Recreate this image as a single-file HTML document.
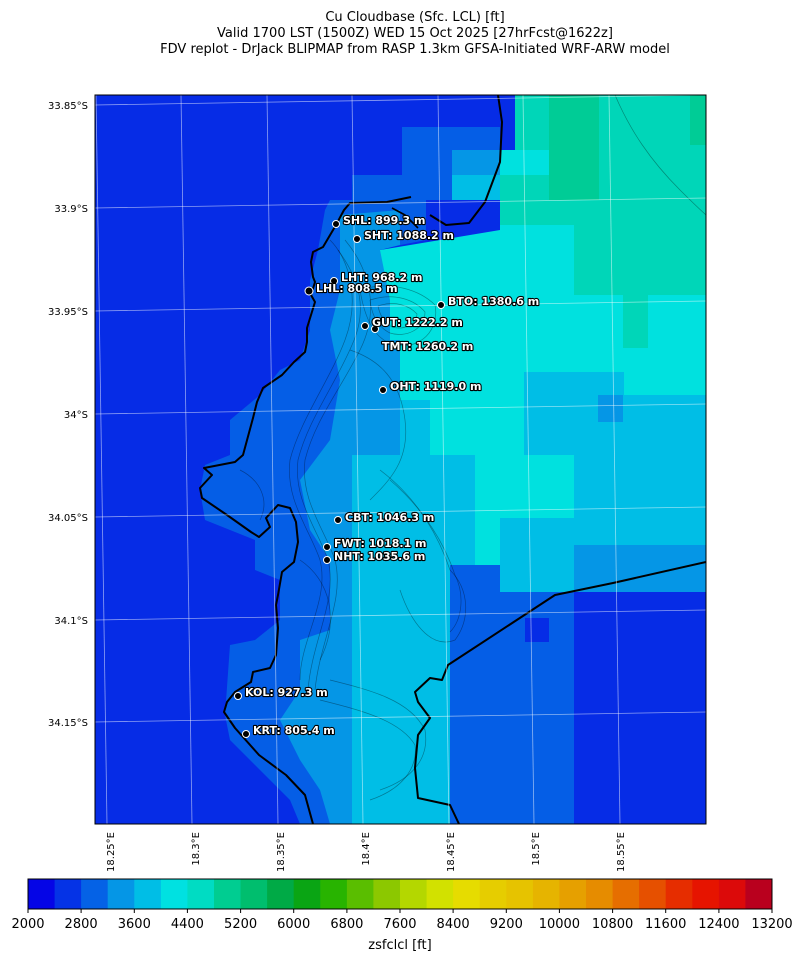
<!DOCTYPE html>
<html><head><meta charset="utf-8"><style>
html,body{margin:0;padding:0;background:#fff;}
svg{display:block;font-family:"DejaVu Sans","Liberation Sans",sans-serif;}
.lab{font-weight:bold;font-size:11px;fill:#fff;stroke:#000;stroke-width:2.2px;paint-order:stroke;stroke-linejoin:round;}
</style></head><body>
<svg width="803" height="962" viewBox="0 0 803 962" xmlns="http://www.w3.org/2000/svg">
<text x="415" y="21" font-size="13" text-anchor="middle">Cu Cloudbase (Sfc. LCL) [ft]</text>
<text x="415" y="37" font-size="13" text-anchor="middle">Valid 1700 LST (1500Z) WED 15 Oct 2025 [27hrFcst@1622z]</text>
<text x="415" y="53" font-size="13" text-anchor="middle">FDV replot - DrJack BLIPMAP from RASP 1.3km GFSA-Initiated WRF-ARW model</text>
<defs><clipPath id="c"><rect x="95" y="95" width="611" height="729"/></clipPath></defs>
<g clip-path="url(#c)">
<rect x="95" y="95" width="611" height="729" fill="#062ce6"/>
<polygon fill="#00bee6" points="400,360 706,360 706,545 574,545 574,592 500,592 500,640 450,680 426,720 426,824 352,824 352,455 400,455"/>
<polygon fill="#00e1df" points="380,250 500,230 500,175 549,175 549,200 706,200 706,395 624,395 624,372 524,372 524,455 574,455 574,518 500,518 500,565 475,565 475,455 430,455 430,400 390,400 390,330 380,300"/>
<polygon fill="#00d6b8" points="522,95 706,95 706,295 648,295 648,348 623,348 623,295 574,295 574,225 500,225 500,150 515,150 515,95"/>
<rect x="549" y="95" width="50" height="105" fill="#00cc96"/>
<rect x="690" y="95" width="16" height="50" fill="#00cc96"/>
<rect x="500" y="150" width="49" height="25" fill="#00e1df"/>
<rect x="402" y="127" width="50" height="73" fill="#055ee6"/>
<rect x="452" y="127" width="48" height="23" fill="#055ee6"/>
<rect x="452" y="150" width="48" height="25" fill="#0596e6"/>
<rect x="452" y="175" width="48" height="25" fill="#00bee6"/>
<rect x="352" y="175" width="50" height="25" fill="#055ee6"/>
<rect x="598" y="395" width="25" height="27" fill="#0596e6"/>
<rect x="574" y="545" width="132" height="47" fill="#0596e6"/>
<rect x="500" y="592" width="74" height="232" fill="#055ee6"/>
<rect x="450" y="565" width="50" height="259" fill="#055ee6"/>
<rect x="525" y="618" width="24" height="24" fill="#062ce6"/>
<polygon fill="#055ee6" points="330,200 426,200 426,240 375,250 352,300 352,455 352,824 300,824 290,800 250,760 230,740 225,715 230,645 255,640 280,620 280,580 255,570 255,540 205,520 200,490 205,465 230,455 230,420 260,395 280,370 300,360 310,330 310,280 318,250 325,210"/>
<polygon fill="#0596e6" points="340,215 400,210 400,245 380,250 390,300 390,400 352,455 352,824 330,824 320,790 300,760 280,720 300,690 300,640 330,630 330,560 310,530 300,480 330,440 340,380 330,330 340,290"/>
<rect x="352" y="340" width="48" height="115" fill="#0596e6"/>
<rect x="375" y="565" width="75" height="125" fill="#00bee6"/>
<rect x="352" y="455" width="48" height="60" fill="#00bee6"/>
<rect x="426" y="690" width="24" height="134" fill="#00bee6"/>
<g fill="none" stroke="#000" stroke-opacity="0.35" stroke-width="0.7">
<path d="M330,240 C350,260 360,300 345,340 C330,380 300,420 290,460 C285,500 310,530 320,560 C330,600 300,640 300,680"/>
<path d="M345,240 C370,270 380,310 360,350 C340,390 315,420 305,460 C300,500 325,530 335,560 C345,600 320,640 315,690"/>
<path d="M338,250 C360,280 368,310 352,345 C335,385 308,420 298,460 C293,500 318,530 328,560 C338,600 312,640 308,690"/>
<path d="M360,290 C390,280 420,290 435,305 C440,330 420,350 395,345 C375,340 365,320 360,290"/>
<path d="M370,300 C395,292 415,300 425,312 C425,330 405,338 390,333 C380,328 372,318 370,300"/>
<path d="M378,306 C395,300 410,306 417,314 C416,326 402,330 392,327 C385,323 380,316 378,306"/>
<path d="M350,350 C380,360 400,380 405,420 C410,460 390,480 370,500"/>
<path d="M380,470 C420,500 440,540 450,570 C470,590 470,620 455,640 C430,650 410,620 400,590"/>
<path d="M390,480 C425,510 445,545 455,575 C465,595 462,620 450,632"/>
<path d="M300,560 C330,580 340,620 320,660"/>
<path d="M330,680 C370,690 410,700 425,730 C430,760 410,780 380,790"/>
<path d="M320,700 C360,710 400,720 415,745 C418,770 400,790 370,800"/>
<path d="M240,470 C260,480 270,500 260,520"/>
<path d="M615,95 C630,130 650,160 680,190 C695,205 706,215 706,215"/>
</g>
<g fill="none" stroke="#000" stroke-width="2" stroke-linejoin="round">
<polyline points="411,197 387,202 350,203 344,210 336,225 323,247 313,252 311,262 313,277 315,282 311,295 315,302 311,315 307,328 307,342 305,352 294,362 282,375 263,388 257,402 253,418 243,455 235,462 204,468 212,475 200,488 202,498 227,515 251,532 259,537 270,527 266,518 278,505 290,508 296,522 298,542 294,562 282,572 278,595 276,605 278,628 276,655 270,668 253,672 251,682 235,692 227,702 224,712 235,728 259,755 286,775 305,795 313,824"/>
<polyline points="459,824 450,805 418,798 415,768 418,735 430,718 418,702 415,692 430,678 442,680 448,665 555,595 613,583 706,562"/>
<polyline points="498,95 502,122 500,162 485,202 469,223 446,225 430,215"/>
<polyline points="392,208 405,215 418,228" stroke-width="1.6"/>
</g>
<g stroke="#fff" stroke-opacity="0.55" stroke-width="0.8">
<line x1="95" y1="105" x2="706" y2="95"/><line x1="95" y1="208" x2="706" y2="198"/>
<line x1="95" y1="311" x2="706" y2="301"/><line x1="95" y1="414" x2="706" y2="404"/>
<line x1="95" y1="517" x2="706" y2="507"/><line x1="95" y1="620" x2="706" y2="610"/>
<line x1="95" y1="722" x2="706" y2="712"/>
<line x1="107" y1="824" x2="96" y2="95"/><line x1="192" y1="824" x2="181" y2="95"/>
<line x1="278" y1="824" x2="267" y2="95"/><line x1="363" y1="824" x2="352" y2="95"/>
<line x1="449" y1="824" x2="438" y2="95"/><line x1="534" y1="824" x2="523" y2="95"/>
<line x1="620" y1="824" x2="609" y2="95"/>
</g>
<g fill="#000" stroke="#fff" stroke-width="1">
<circle cx="336" cy="224" r="3.5"/><circle cx="357" cy="239" r="3.5"/><circle cx="334" cy="281" r="3.5"/>
<circle cx="309" cy="291" r="4"/><circle cx="441" cy="305" r="3.5"/><circle cx="365" cy="326" r="3.5"/>
<circle cx="375" cy="329" r="3.5"/><circle cx="383" cy="390" r="3.5"/><circle cx="338" cy="520" r="3.5"/>
<circle cx="327" cy="547" r="3.5"/><circle cx="327" cy="560" r="3.5"/><circle cx="238" cy="696" r="3.5"/>
<circle cx="246" cy="734" r="3.5"/>
</g>
<text class="lab" x="343" y="224">SHL: 899.3 m</text>
<text class="lab" x="364" y="239">SHT: 1088.2 m</text>
<text class="lab" x="341" y="281">LHT: 968.2 m</text>
<text class="lab" x="316" y="292">LHL: 808.5 m</text>
<text class="lab" x="448" y="305">BTO: 1380.6 m</text>
<text class="lab" x="372" y="326">GUT: 1222.2 m</text>
<text class="lab" x="382" y="350">TMT: 1260.2 m</text>
<text class="lab" x="390" y="390">OHT: 1119.0 m</text>
<text class="lab" x="345" y="521">CBT: 1046.3 m</text>
<text class="lab" x="334" y="547">FWT: 1018.1 m</text>
<text class="lab" x="334" y="560">NHT: 1035.6 m</text>
<text class="lab" x="245" y="696">KOL: 927.3 m</text>
<text class="lab" x="253" y="734">KRT: 805.4 m</text>
</g>
<rect x="95" y="95" width="611" height="729" fill="none" stroke="#000" stroke-width="1"/>
<g font-size="10" text-anchor="end">
<text x="88" y="109">33.85°S</text><text x="88" y="212">33.9°S</text><text x="88" y="315">33.95°S</text>
<text x="88" y="418">34°S</text><text x="88" y="521">34.05°S</text><text x="88" y="624">34.1°S</text>
<text x="88" y="726">34.15°S</text>
</g>
<g font-size="10" text-anchor="end">
<text transform="translate(114,832) rotate(-90)">18.25°E</text>
<text transform="translate(199,832) rotate(-90)">18.3°E</text>
<text transform="translate(284,832) rotate(-90)">18.35°E</text>
<text transform="translate(369,832) rotate(-90)">18.4°E</text>
<text transform="translate(454,832) rotate(-90)">18.45°E</text>
<text transform="translate(539,832) rotate(-90)">18.5°E</text>
<text transform="translate(624,832) rotate(-90)">18.55°E</text>
</g>
<g>
<rect x="28.0" y="879" width="27" height="30" fill="#0505e6"/>
<rect x="54.6" y="879" width="27" height="30" fill="#0533e6"/>
<rect x="81.1" y="879" width="27" height="30" fill="#0562e6"/>
<rect x="107.7" y="879" width="27" height="30" fill="#0596e6"/>
<rect x="134.3" y="879" width="27" height="30" fill="#00bee6"/>
<rect x="160.9" y="879" width="27" height="30" fill="#00e1e1"/>
<rect x="187.4" y="879" width="27" height="30" fill="#00dcc3"/>
<rect x="214.0" y="879" width="27" height="30" fill="#00cd91"/>
<rect x="240.6" y="879" width="27" height="30" fill="#00be6e"/>
<rect x="267.1" y="879" width="27" height="30" fill="#00aa46"/>
<rect x="293.7" y="879" width="27" height="30" fill="#0aa514"/>
<rect x="320.3" y="879" width="27" height="30" fill="#28b400"/>
<rect x="346.9" y="879" width="27" height="30" fill="#5abe00"/>
<rect x="373.4" y="879" width="27" height="30" fill="#8cc800"/>
<rect x="400.0" y="879" width="27" height="30" fill="#b4d700"/>
<rect x="426.6" y="879" width="27" height="30" fill="#d2e100"/>
<rect x="453.1" y="879" width="27" height="30" fill="#e6dc00"/>
<rect x="479.7" y="879" width="27" height="30" fill="#e6cd00"/>
<rect x="506.3" y="879" width="27" height="30" fill="#e6c300"/>
<rect x="532.9" y="879" width="27" height="30" fill="#e6b400"/>
<rect x="559.4" y="879" width="27" height="30" fill="#e6a000"/>
<rect x="586.0" y="879" width="27" height="30" fill="#e68c00"/>
<rect x="612.6" y="879" width="27" height="30" fill="#e66e00"/>
<rect x="639.1" y="879" width="27" height="30" fill="#e65000"/>
<rect x="665.7" y="879" width="27" height="30" fill="#e62d00"/>
<rect x="692.3" y="879" width="27" height="30" fill="#e61400"/>
<rect x="718.9" y="879" width="27" height="30" fill="#dc0a0a"/>
<rect x="745.4" y="879" width="26.6" height="30" fill="#b9001e"/>
<rect x="28" y="879" width="744" height="30" fill="none" stroke="#000" stroke-width="1"/>
</g>
<g stroke="#000" stroke-width="1">
<line x1="28" y1="909" x2="28" y2="913"/><line x1="81.1" y1="909" x2="81.1" y2="913"/><line x1="134.3" y1="909" x2="134.3" y2="913"/><line x1="187.4" y1="909" x2="187.4" y2="913"/><line x1="240.6" y1="909" x2="240.6" y2="913"/><line x1="293.7" y1="909" x2="293.7" y2="913"/><line x1="346.9" y1="909" x2="346.9" y2="913"/><line x1="400" y1="909" x2="400" y2="913"/><line x1="453.1" y1="909" x2="453.1" y2="913"/><line x1="506.3" y1="909" x2="506.3" y2="913"/><line x1="559.4" y1="909" x2="559.4" y2="913"/><line x1="612.6" y1="909" x2="612.6" y2="913"/><line x1="665.7" y1="909" x2="665.7" y2="913"/><line x1="718.9" y1="909" x2="718.9" y2="913"/><line x1="772" y1="909" x2="772" y2="913"/>
</g>
<g font-size="13" text-anchor="middle">
<text x="28" y="928">2000</text><text x="81.1" y="928">2800</text><text x="134.3" y="928">3600</text><text x="187.4" y="928">4400</text><text x="240.6" y="928">5200</text><text x="293.7" y="928">6000</text><text x="346.9" y="928">6800</text><text x="400" y="928">7600</text><text x="453.1" y="928">8400</text><text x="506.3" y="928">9200</text><text x="559.4" y="928">10000</text><text x="612.6" y="928">10800</text><text x="665.7" y="928">11600</text><text x="718.9" y="928">12400</text><text x="772" y="928">13200</text>
<text x="400" y="949">zsfclcl [ft]</text>
</g>
</svg>
</body></html>
